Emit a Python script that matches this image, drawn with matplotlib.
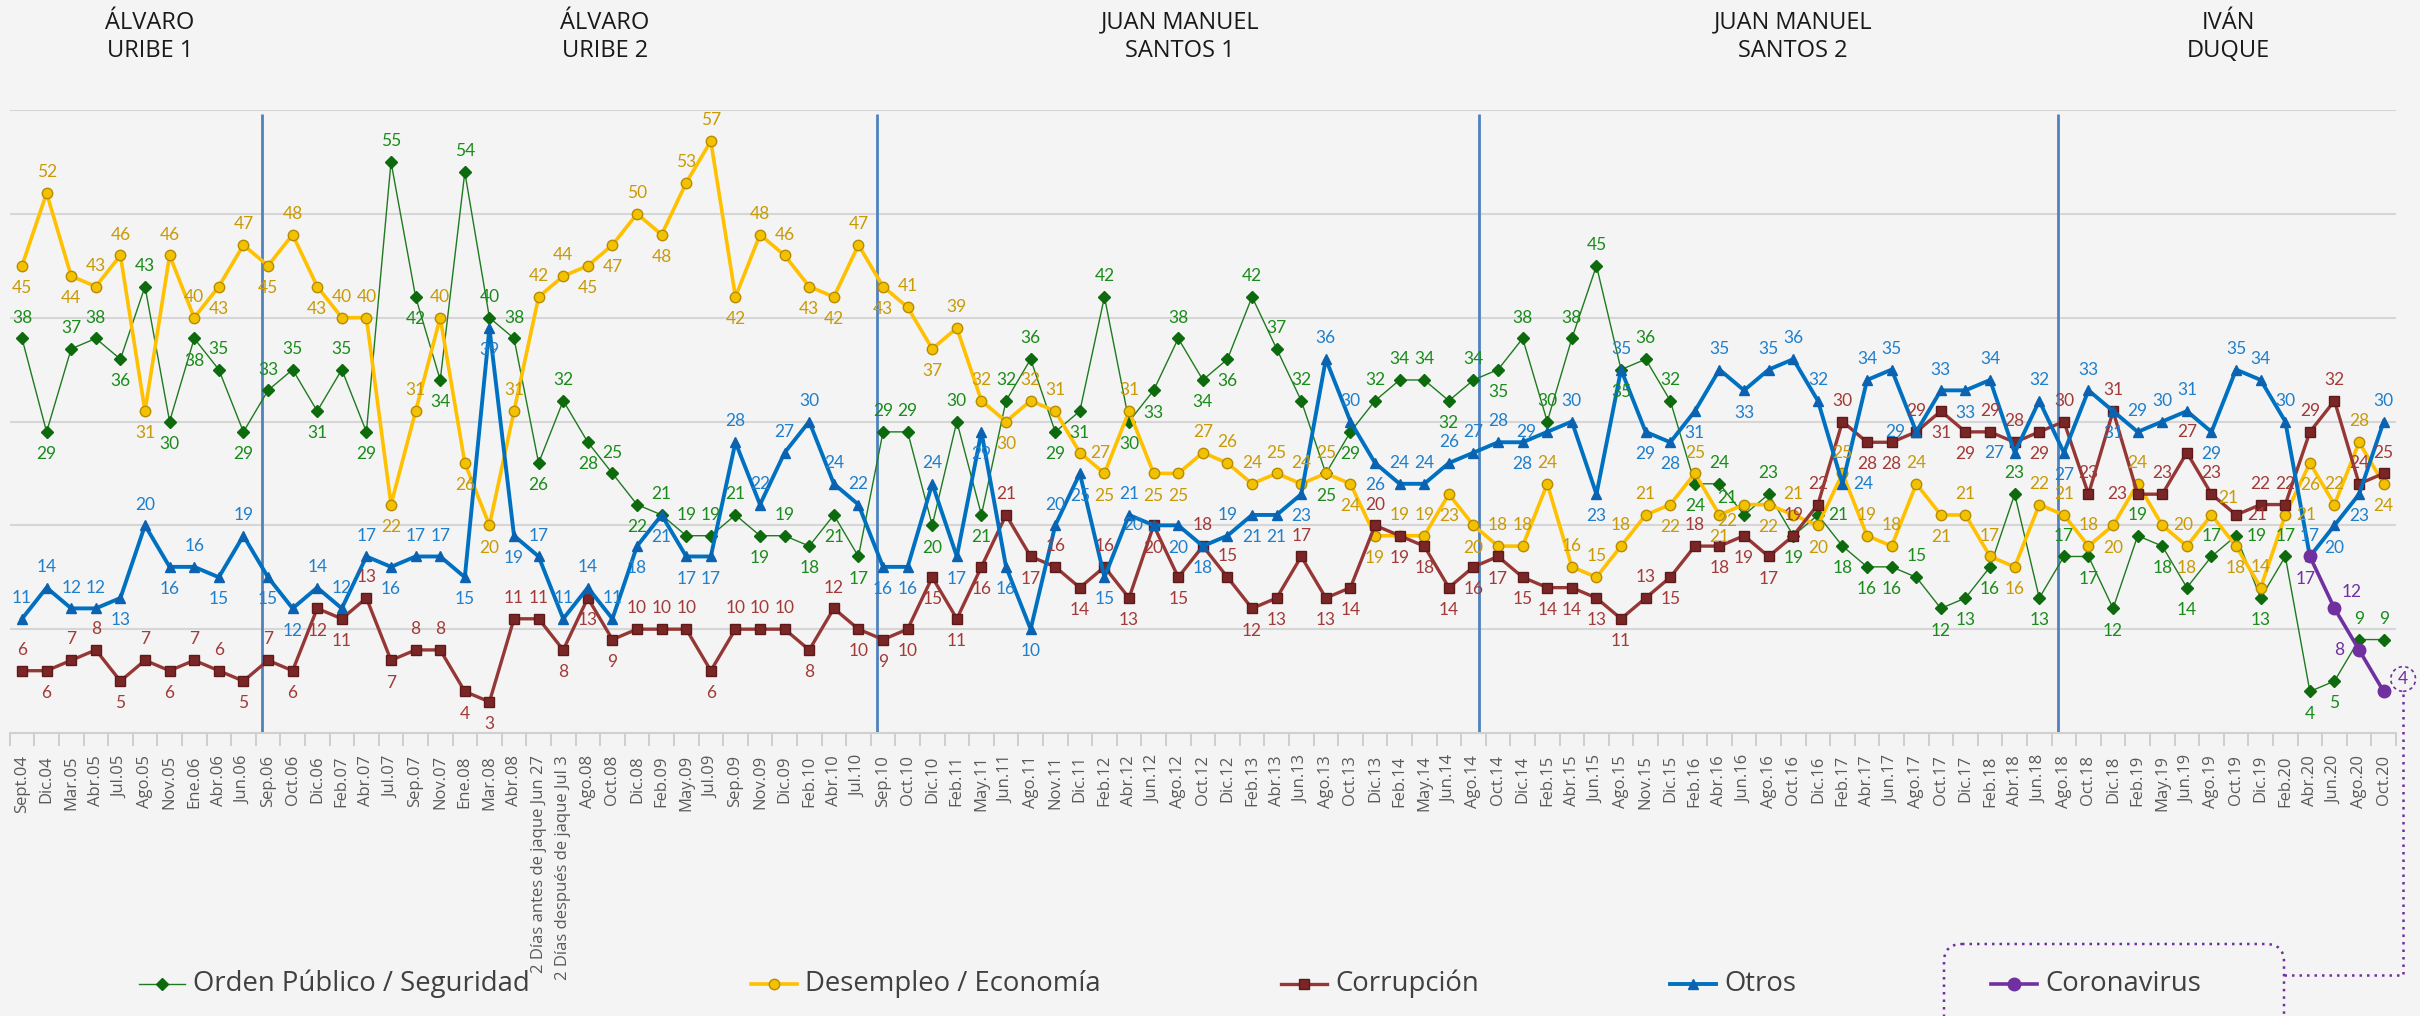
import numpy as np
import matplotlib.pyplot as plt
from matplotlib.patches import FancyBboxPatch
from matplotlib.lines import Line2D

plt.rcParams['font.family'] = ['Open Sans', 'DejaVu Sans']

# Fechas de medición
fechas = ["Sept.04", "Dic.04", "Mar.05", "Abr.05", "Jul.05", "Ago.05", "Nov.05", "Ene.06", "Abr.06", "Jun.06",
          "Sep.06", "Oct.06", "Dic.06", "Feb.07", "Abr.07", "Jul.07", "Sep.07", "Nov.07", "Ene.08", "Mar.08",
          "Abr.08", "2 Días antes de jaque Jun 27", "2 Días después de jaque Jul 3", "Ago.08", "Oct.08",
          "Dic.08", "Feb.09", "May.09", "Jul.09", "Sep.09", "Nov.09", "Dic.09", "Feb.10", "Abr.10", "Jul.10",
          "Sep.10", "Oct.10", "Dic.10", "Feb.11", "May.11", "Jun.11", "Ago.11", "Nov.11", "Dic.11", "Feb.12",
          "Abr.12", "Jun.12", "Ago.12", "Oct.12", "Dic.12", "Feb.13", "Abr.13", "Jun.13", "Ago.13", "Oct.13",
          "Dic.13", "Feb.14", "May.14", "Jun.14",
          "Ago.14", "Oct.14", "Dic.14", "Feb.15", "Abr.15", "Jun.15", "Ago.15", "Nov.15", "Dic.15", "Feb.16",
          "Abr.16", "Jun.16", "Ago.16", "Oct.16", "Dic.16", "Feb.17", "Abr.17", "Jun.17", "Ago.17", "Oct.17",
          "Dic.17", "Feb.18", "Abr.18", "Jun.18",
          "Ago.18", "Oct.18", "Dic.18", "Feb.19", "May.19", "Jun.19", "Ago.19", "Oct.19", "Dic.19", "Feb.20",
          "Abr.20", "Jun.20", "Ago.20", "Oct.20"]

orden = [38, 29, 37, 38, 36, 43, 30, 38, 35, 29,
         33, 35, 31, 35, 29, 55, 42, 34, 54, 40, 38, 26, 32, 28, 25, 22, 21, 19, 19, 21, 19, 19, 18, 21, 17,
         29, 29, 20, 30, 21, 32, 36, 29, 31, 42, 30, 33, 38, 34, 36, 42, 37, 32, 25, 29, 32, 34, 34, 32,
         34, 35, 38, 30, 38, 45, 35, 36, 32, 24, 24, 21, 23, 19, 21, 18, 16, 16, 15, 12, 13, 16, 23, 13,
         17, 17, 12, 19, 18, 14, 17, 19, 13, 17, 4, 5, 9, 9]

desempleo = [45, 52, 44, 43, 46, 31, 46, 40, 43, 47,
             45, 48, 43, 40, 40, 22, 31, 40, 26, 20, 31, 42, 44, 45, 47, 50, 48, 53, 57, 42, 48, 46, 43, 42, 47,
             43, 41, 37, 39, 32, 30, 32, 31, 27, 25, 31, 25, 25, 27, 26, 24, 25, 24, 25, 24, 19, 19, 19, 23,
             20, 18, 18, 24, 16, 15, 18, 21, 22, 25, 21, 22, 22, 21, 20, 25, 19, 18, 24, 21, 21, 17, 16, 22,
             21, 18, 20, 24, 20, 18, 21, 18, 14, 21, 26, 22, 28, 24]

corrupcion = [6, 6, 7, 8, 5, 7, 6, 7, 6, 5,
              7, 6, 12, 11, 13, 7, 8, 8, 4, 3, 11, 11, 8, 13, 9, 10, 10, 10, 6, 10, 10, 10, 8, 12, 10,
              9, 10, 15, 11, 16, 21, 17, 16, 14, 16, 13, 20, 15, 18, 15, 12, 13, 17, 13, 14, 20, 19, 18, 14,
              16, 17, 15, 14, 14, 13, 11, 13, 15, 18, 18, 19, 17, 19, 22, 30, 28, 28, 29, 31, 29, 29, 28, 29,
              30, 23, 31, 23, 23, 27, 23, 21, 22, 22, 29, 32, 24, 25]

otros = [11, 14, 12, 12, 13, 20, 16, 16, 15, 19,
         15, 12, 14, 12, 17, 16, 17, 17, 15, 39, 19, 17, 11, 14, 11, 18, 21, 17, 17, 28, 22, 27, 30, 24, 22,
         16, 16, 24, 17, 29, 16, 10, 20, 25, 15, 21, 20, 20, 18, 19, 21, 21, 23, 36, 30, 26, 24, 24, 26,
         27, 28, 28, 29, 30, 23, 35, 29, 28, 31, 35, 33, 35, 36, 32, 24, 34, 35, 29, 33, 33, 34, 27, 32,
         27, 33, 31, 29, 30, 31, 29, 35, 34, 30, 17, 20, 23, 30]

coronavirus = [17, 12, 8, 4]
corona_inicio = 93  # Abr.20

periodos = ["ÁLVARO\nURIBE 1", "ÁLVARO\nURIBE 2", "JUAN MANUEL\nSANTOS 1", "JUAN MANUEL\nSANTOS 2", "IVÁN\nDUQUE"]
periodos_x = [150, 605, 1180, 1793, 2228]        # pixeles
separadores = [9.74, 34.76, 59.23, 82.78]         # entre gobiernos

W, H = 2420, 1016
fig = plt.figure(figsize=(W / 100, H / 100), dpi=100)
bg = "#f4f4f4"
fig.patch.set_facecolor(bg)
ax = fig.add_axes([9.7 / W, (H - 733) / H, (2396 - 9.7) / W, 623 / H])
ax.set_facecolor(bg)
ax.set_xlim(-0.5, len(fechas) - 0.5)
ax.set_ylim(0, 60)

x = np.arange(len(fechas))
purple = "#7030a0"
xc = np.arange(corona_inicio, corona_inicio + len(coronavirus))

series = [
    (x, orden, "Orden Público / Seguridad", "#1f7a1f", 1.0, "D", 6.0, "#0d6b0d", "#0d6b0d", "#1a8c1a", 3),
    (x, desempleo, "Desempleo / Economía", "#ffc000", 2.6, "o", 7.5, "#f2c200", "#b88a00", "#c99a06", 3),
    (x, corrupcion, "Corrupción", "#953735", 2.4, "s", 6.5, "#7a2626", "#5e1a1a", "#a23a38", 3),
    (x, otros, "Otros", "#0070c0", 2.8, "^", 7.0, "#0a62b0", "#0a62b0", "#1f7fcc", 3),
    (xc, coronavirus, "Coronavirus", purple, 2.6, "o", 9.0, purple, purple, purple, 4),
]

handles = []
for xs, vals, name, col, lw, mk, ms, mfc, mec, tcol, z in series:
    h, = ax.plot(xs, vals, color=col, lw=lw, marker=mk, ms=ms, mfc=mfc, mec=mec, label=name, zorder=z)
    handles.append(h)

# colocación de etiquetas evitando choques (en pixeles)
to_px = ax.transData.transform
puntos = []
for k, s in enumerate(series):
    for xi, v in zip(s[0], s[1]):
        px, py = to_px((xi, v))
        puntos.append((k, px, py))

colocadas = []


def choques(box, k):
    c = 0
    for b in colocadas:
        if box[0] < b[2] and box[2] > b[0] and box[1] < b[3] and box[3] > b[1]:
            c += 10
    for kk, px, py in puntos:
        if kk == k:
            continue
        if box[0] - 5 < px < box[2] + 5 and box[1] - 5 < py < box[3] + 5:
            c += 3
    return c


corona_pos = [(-3, -16), (12, 12), (-14, 0), (14, 9)]
for k in [4, 0, 1, 2, 3]:
    xs, vals, tcol = series[k][0], series[k][1], series[k][9]
    n = len(vals)
    for i, (xi, v) in enumerate(zip(xs, vals)):
        txt = str(v)
        vecinos = [vals[j] for j in (i - 1, i + 1) if 0 <= j < n]
        arriba = v >= np.mean(vecinos)
        up, down = (0, 15), (0, -16)
        opciones = [up, down] if arriba else [down, up]
        opciones += [(-15, 0), (15, 0), (12, 12), (-12, 12), (-12, -12), (12, -12)]
        if k == 4:
            opciones = [corona_pos[i]]
        px, py = to_px((xi, v))
        w, hh = 8.8 * len(txt) + 2, 15
        mejor, mejor_c = None, 1e9
        for j, (ox, oy) in enumerate(opciones):
            cx, cy = px + ox * 100 / 72, py + oy * 100 / 72
            box = (cx - w / 2, cy - hh / 2, cx + w / 2, cy + hh / 2)
            c = choques(box, k) + j * 0.5
            if c < mejor_c:
                mejor, mejor_c, mbox = (ox, oy), c, box
        colocadas.append(mbox)
        kw = {}
        if k == 4 and i == n - 1:
            kw["bbox"] = dict(boxstyle="circle,pad=0.25", fc="none", ec=purple, ls=(0, (2, 2)), lw=1.2)
        ax.annotate(txt, (xi, v), xytext=mejor, textcoords="offset points",
                    ha="center", va="center", fontsize=12.5, color=tcol, family="Lato", zorder=5, **kw)

ax.vlines(separadores, 0, 59.6, color="#4f81bd", lw=2, zorder=2)

ax.set_yticks(range(10, 61, 10))
ax.yaxis.grid(True, color="#d6d6d6", lw=1.5, zorder=0)
ax.tick_params(axis="y", length=0, labelleft=False)
ax.set_xticks(x)
ax.set_xticklabels(fechas, rotation=90, fontsize=12, color="#595959")
ax.set_xticks(np.arange(-0.5, len(fechas)), minor=True)
ax.tick_params(axis="x", which="major", length=0, pad=16)
ax.tick_params(axis="x", which="minor", length=9, color="#c8c8c8", width=1.2)
for s in ["top", "right", "left"]:
    ax.spines[s].set_visible(False)
ax.spines["bottom"].set_color("#d0d0d0")
ax.spines["bottom"].set_linewidth(1.5)
ax.set_axisbelow(True)

# capa superior en pixeles para títulos, leyenda y recuadro
ov = fig.add_axes([0, 0, 1, 1], zorder=10)
ov.set_xlim(0, W)
ov.set_ylim(H, 0)
ov.axis("off")
ov.patch.set_alpha(0)

for txt, px in zip(periodos, periodos_x):
    ov.text(px, 37, txt, ha="center", va="center", fontsize=17, color="#1a1a1a", linespacing=1.25)

leg_x = [139, 751, 1281, 1670, 1991]
leg_y = 984
for hd, x0 in zip(handles, leg_x):
    ov.add_line(Line2D([x0, x0 + 46], [leg_y, leg_y], color=hd.get_color(), lw=hd.get_linewidth()))
    ov.add_line(Line2D([x0 + 23], [leg_y], marker=hd.get_marker(), ms=hd.get_markersize(),
                       mfc=hd.get_markerfacecolor(), mec=hd.get_markeredgecolor(), lw=0))
    ov.text(x0 + 54, leg_y, hd.get_label(), ha="left", va="center", fontsize=19.8, color="#404040")

caja = FancyBboxPatch((1944, 944), 340, 100, boxstyle="round,pad=0,rounding_size=18",
                      fc="none", ec=purple, ls=(0, (1, 2)), lw=1.8)
ov.add_patch(caja)
ov.add_line(Line2D([2284, 2403, 2403], [975, 975, 694], color=purple, ls=(0, (1, 2)), lw=1.8))

fig.savefig("out.png", dpi=100, facecolor=fig.get_facecolor())
